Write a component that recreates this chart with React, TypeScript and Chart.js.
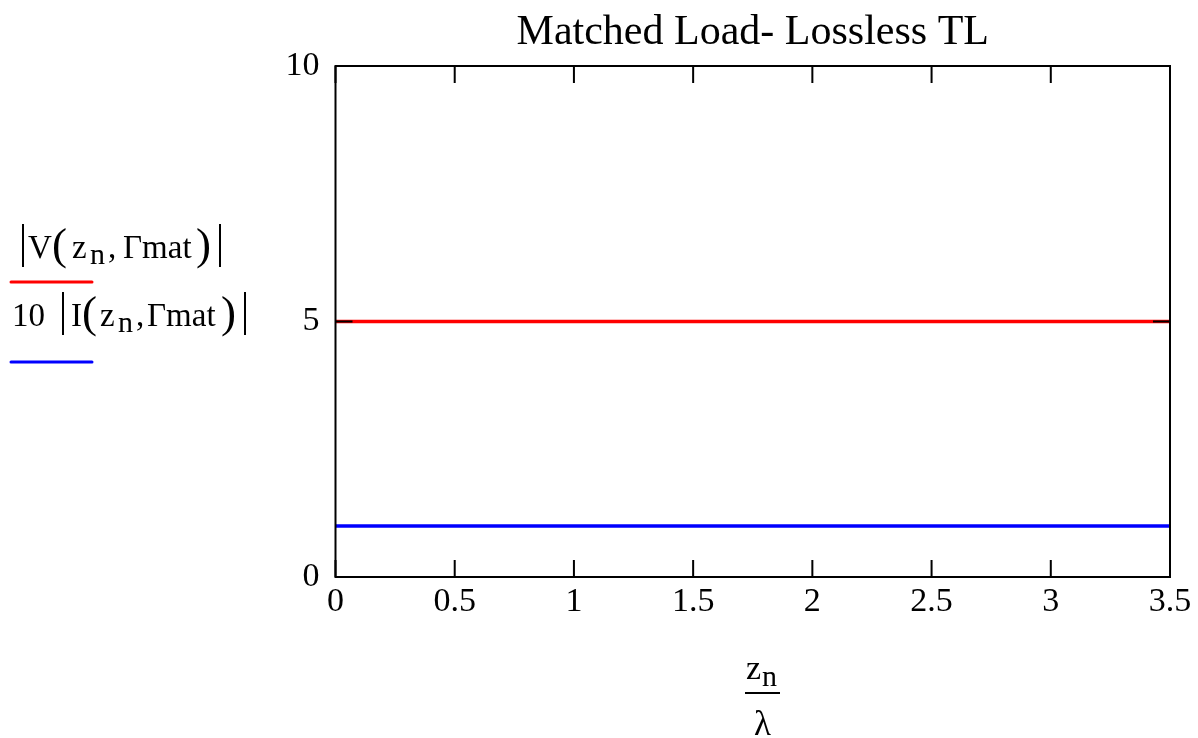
import React, { useEffect, useRef } from "react";
import { Chart, registerables } from "chart.js";

Chart.register(...registerables);

// ---- data ----
const chartTitle = "Matched Load- Lossless TL";
const zOverLambda = [0, 0.5, 1, 1.5, 2, 2.5, 3, 3.5];
const voltageMag = [5, 5, 5, 5, 5, 5, 5, 5];
const currentMag10 = [1, 1, 1, 1, 1, 1, 1, 1];
const xTickValues = [0, 0.5, 1, 1.5, 2, 2.5, 3, 3.5];
const yTickValues = [0, 5, 10];
const xRange = [0, 3.5];
const yRange = [0, 10];

const SERIF = '"Liberation Serif", "Times New Roman", Times, serif';
const RED = "#ff0000";
const BLUE = "#0000ff";

function font(size: number) {
  return `${size}px ${SERIF}`;
}

function vbar(ctx: CanvasRenderingContext2D, x: number, y1: number, y2: number) {
  ctx.beginPath();
  ctx.moveTo(x, y1);
  ctx.lineTo(x, y2);
  ctx.stroke();
}

function text(ctx: CanvasRenderingContext2D, t: string, x: number, y: number, size: number, align: CanvasTextAlign = "left") {
  ctx.font = font(size);
  ctx.textAlign = align;
  ctx.textBaseline = "alphabetic";
  ctx.fillText(t, x, y);
}

const mathcadPlugin = {
  id: "mathcadDecor",
  afterDatasetsDraw(chart: any) {
    const { ctx, chartArea: a, scales } = chart;
    const xs = scales.x;
    const ys = scales.y;
    ctx.save();
    ctx.strokeStyle = "#000";
    ctx.fillStyle = "#000";
    ctx.lineWidth = 2;
    ctx.strokeRect(a.left, a.top, a.right - a.left, a.bottom - a.top);
    const T = 17;
    ctx.beginPath();
    xTickValues.forEach((v) => {
      const px = xs.getPixelForValue(v);
      ctx.moveTo(px, a.bottom);
      ctx.lineTo(px, a.bottom - T);
      ctx.moveTo(px, a.top);
      ctx.lineTo(px, a.top + T);
    });
    yTickValues.forEach((v) => {
      const py = ys.getPixelForValue(v);
      ctx.moveTo(a.left, py);
      ctx.lineTo(a.left + T, py);
      ctx.moveTo(a.right, py);
      ctx.lineTo(a.right - T, py);
    });
    ctx.stroke();

    // title
    text(ctx, chartTitle, (a.left + a.right) / 2, 44, 42, "center");

    // legend (y-axis label in Mathcad style)
    ctx.lineWidth = 2;
    const F = 33;
    const SUB = 30;
    const PAR = 45;
    // line 1: |V(z_n, Γmat)|
    const b1 = 258;
    vbar(ctx, 23, b1 - 34, b1 + 9);
    text(ctx, "V", 28, b1, F);
    text(ctx, "(", 52, b1 + 1, PAR);
    text(ctx, "z", 72, b1, F);
    text(ctx, "n", 90, b1 + 6, SUB);
    text(ctx, ",", 108, b1, F);
    text(ctx, "\u0393mat", 123, b1, F);
    text(ctx, ")", 196, b1 + 1, PAR);
    vbar(ctx, 220, b1 - 34, b1 + 9);
    // line 2: 10 |I(z_n, Γmat)|
    const b2 = 326;
    text(ctx, "10", 12, b2, F);
    vbar(ctx, 63, b2 - 34, b2 + 9);
    text(ctx, "I", 71, b2, F);
    text(ctx, "(", 82, b2 + 1, PAR);
    text(ctx, "z", 100, b2, F);
    text(ctx, "n", 118, b2 + 6, SUB);
    text(ctx, ",", 136, b2, F);
    text(ctx, "\u0393mat", 147, b2, F);
    text(ctx, ")", 221, b2 + 1, PAR);
    vbar(ctx, 245, b2 - 34, b2 + 9);

    // legend swatches
    ctx.lineWidth = 3;
    ctx.lineCap = "round";
    ctx.strokeStyle = RED;
    ctx.beginPath();
    ctx.moveTo(11, 282);
    ctx.lineTo(92, 282);
    ctx.stroke();
    ctx.strokeStyle = BLUE;
    ctx.beginPath();
    ctx.moveTo(11, 362);
    ctx.lineTo(92, 362);
    ctx.stroke();

    // x-axis title: z_n / λ
    ctx.strokeStyle = "#000";
    ctx.lineCap = "butt";
    ctx.lineWidth = 2;
    text(ctx, "z", 746, 679, 34);
    text(ctx, "n", 762, 686, 30);
    ctx.beginPath();
    ctx.moveTo(745, 693);
    ctx.lineTo(780, 693);
    ctx.stroke();
    text(ctx, "\u03bb", 762.5, 735, 35, "center");
    ctx.restore();
  },
};

export default function App() {
  const ref = useRef<HTMLCanvasElement | null>(null);
  useEffect(() => {
    document.body.style.margin = "0";
    const canvas = ref.current;
    if (!canvas) return;
    const chart = new Chart(canvas, {
      type: "line",
      data: {
        datasets: [
          {
            label: "|V(zn,Γmat)|",
            data: zOverLambda.map((z, i) => ({ x: z, y: voltageMag[i] })),
            borderColor: RED,
            borderWidth: 3.5,
            pointRadius: 0,
            fill: false,
          },
          {
            label: "10 |I(zn,Γmat)|",
            data: zOverLambda.map((z, i) => ({ x: z, y: currentMag10[i] })),
            borderColor: BLUE,
            borderWidth: 3.5,
            pointRadius: 0,
            fill: false,
          },
        ],
      },
      options: {
        animation: false,
        responsive: false,
        devicePixelRatio: 1,
        layout: { padding: { left: 269.5, top: 66, right: 28, bottom: 110.2 } },
        plugins: {
          legend: { display: false },
          title: { display: false },
          tooltip: { enabled: false },
        },
        scales: {
          x: {
            type: "linear",
            min: xRange[0],
            max: xRange[1],
            grid: { display: false, drawTicks: false },
            border: { display: false },
            afterBuildTicks: (axis: any) => {
              axis.ticks = xTickValues.map((v) => ({ value: v }));
            },
            ticks: {
              autoSkip: false,
              maxRotation: 0,
              padding: 5,
              color: "#000",
              font: { family: SERIF, size: 34 },
              callback: (v: any) => String(v),
            },
          },
          y: {
            type: "linear",
            min: yRange[0],
            max: yRange[1],
            grid: { display: false, drawTicks: false },
            border: { display: false },
            afterBuildTicks: (axis: any) => {
              axis.ticks = yTickValues.map((v) => ({ value: v }));
            },
            ticks: {
              padding: 16,
              color: "#000",
              font: { family: SERIF, size: 34 },
              callback: (v: any) => String(v),
            },
          },
        },
      },
      plugins: [mathcadPlugin],
    } as any);
    return () => chart.destroy();
  }, []);
  return (
    <div style={{ position: "fixed", left: 0, top: 0, width: 1198, height: 738, background: "#fff" }}>
      <canvas ref={ref} width={1198} height={738} />
    </div>
  );
}
